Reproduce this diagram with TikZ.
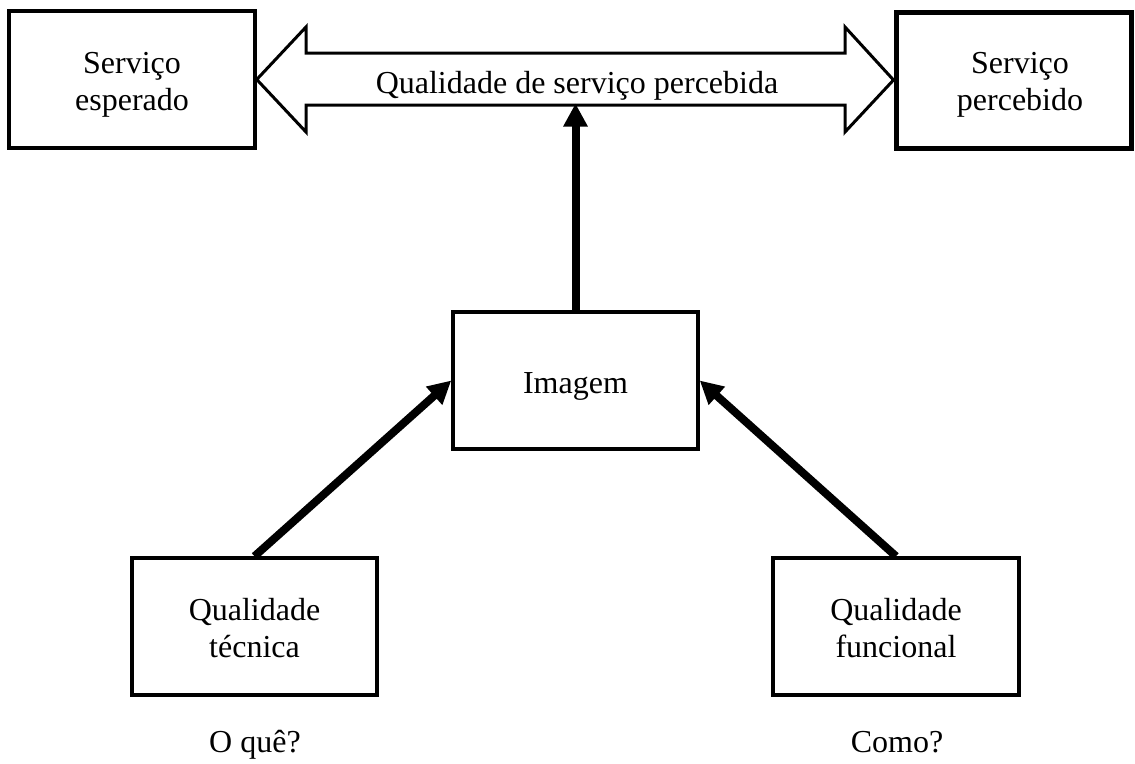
\documentclass[tikz,border=0pt]{standalone}
\usepackage{fontspec}
\setmainfont{Liberation Serif}
\usetikzlibrary{arrows.meta}
\begin{document}
\begin{tikzpicture}[x=1pt,y=-1pt,
  every node/.style={font=\fontsize{32}{37}\selectfont, align=center},
  box/.style={draw, line width=3.5pt, minimum width=245pt, minimum height=137pt, inner sep=0pt},
  txt/.style={anchor=base, inner sep=0pt},
  bigarrow/.style={draw, line width=3pt, line join=miter},
  thickarrow/.style={line width=8pt, -{Triangle[length=23pt,width=23pt]}}]
\useasboundingbox (0,0) rectangle (1135,763);
\node[box, minimum width=246pt] (TL) at (132,79.5) {};
\node[box, line width=5pt, minimum width=235pt, minimum height=136pt] (TR) at (1013.5,80) {};
\node[box] (Im) at (575.5,380.5) {};
\node[box] (BL) at (254.5,626.5) {};
\node[box, minimum width=246pt] (BR) at (896,626.5) {};
\node[txt] (TLt) at (TL.center |- 0,110) {Serviço\\esperado};
\node[txt] (TRt) at (1020,110) {Serviço\\percebido};
\node[txt] (Imt) at (Im.center |- 0,393) {Imagem};
\node[txt] (BLt) at (BL.center |- 0,657) {Qualidade\\técnica};
\node[txt] (BRt) at (BR.center |- 0,657) {Qualidade\\funcional};
\node[txt] (oq) at (255,752) {O quê?};
\node[txt] (co) at (897,752) {Como?};
% double arrow
\draw[bigarrow] (TL.east) -- (306,27) -- (306,53) -- (845,53) -- (845,27) -- (TR.west)
  -- (845,132) -- (845,105) -- (306,105) -- (306,132) -- cycle;
\node[txt] (qsp) at (577,93) {Qualidade de serviço percebida};
\coordinate (qs) at (575.5,103.5);
\draw[thickarrow] (Im.north) -- (qs);
\draw[thickarrow] (BL.north) -- (Im.west);
\draw[thickarrow] (BR.north) -- (Im.east);
\end{tikzpicture}
\end{document}
